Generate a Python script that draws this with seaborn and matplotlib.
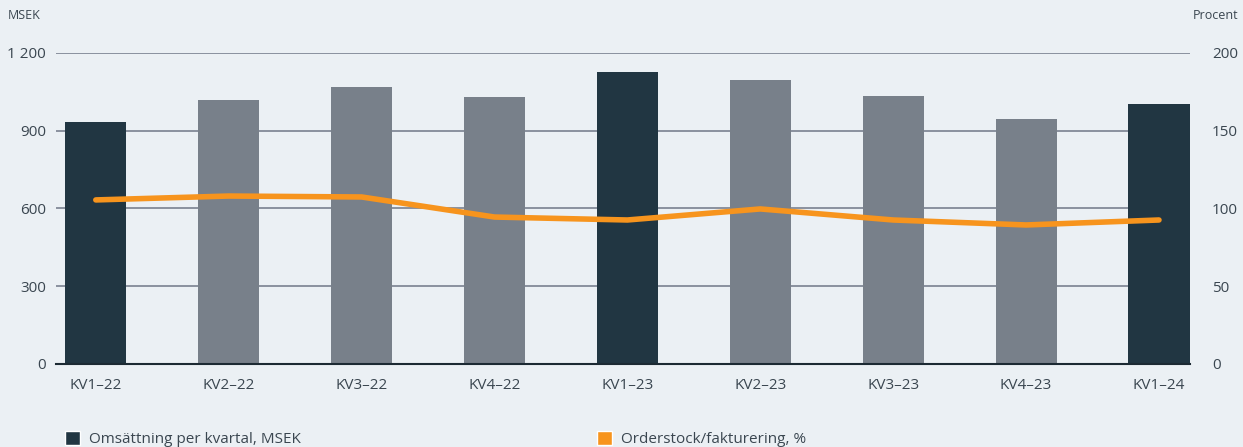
import numpy as np
import matplotlib
matplotlib.use('Agg')
import matplotlib.pyplot as plt
import seaborn as sns
from matplotlib.patches import Patch
from matplotlib.ticker import FuncFormatter

# Data
quarters = ['KV1–22', 'KV2–22', 'KV3–22', 'KV4–22', 'KV1–23', 'KV2–23', 'KV3–23', 'KV4–23', 'KV1–24']
sales_msek = [933, 1019, 1069, 1030, 1127, 1096, 1034, 945, 1003]
order_ratio = [105.5, 108, 107.4, 94.5, 92.6, 99.7, 92.6, 89.4, 92.6]
highlight = [True, False, False, False, True, False, False, False, True]

bg = '#ebf0f4'
dark = '#213642'
grey = '#78808a'
orange = '#f7941d'
text_col = '#3a4650'

sns.set_style('white')
plt.rcParams['font.family'] = ['Open Sans', 'DejaVu Sans']

fig = plt.figure(figsize=(12.43, 4.47), dpi=100, facecolor=bg)
ax = fig.add_axes([0.045, 0.1857, 0.912, 0.6958])
ax.set_facecolor(bg)

palette = {q: (dark if h else grey) for q, h in zip(quarters, highlight)}
sns.barplot(x=quarters, y=sales_msek, hue=quarters, palette=palette, legend=False,
            width=0.46, saturation=1, linewidth=0, edgecolor='none', ax=ax, zorder=2)

ax.set_ylim(0, 1200)
ax.set_yticks([0, 300, 600, 900, 1200])
ax.yaxis.set_major_formatter(FuncFormatter(lambda v, p: f'{int(v):,}'.replace(',', ' ')))
ax.set_xlim(-0.3, 8.23)
ax.grid(axis='y', color='#7a8190', linewidth=1.2, zorder=0)
ax.set_axisbelow(True)
for s in ['top', 'right', 'left']:
    ax.spines[s].set_visible(False)
ax.spines['bottom'].set_color('#1c2a33')
ax.spines['bottom'].set_linewidth(1.5)
ax.tick_params(axis='y', length=0, pad=7, labelsize=11, labelcolor=text_col)
ax.set_xticks(range(len(quarters)))
ax.set_xticklabels(quarters)
ax.tick_params(axis='x', length=0, pad=10, labelsize=11, labelcolor=text_col)
# tick marks between categories
ax.set_xticks(np.arange(0.5, len(quarters) - 1, 1), minor=True)
ax.tick_params(axis='x', which='minor', length=5, width=1.2, color='#1c2a33')
ax.set_xlabel('')
ax.set_ylabel('')

ax2 = ax.twinx()
sns.lineplot(x=np.arange(len(quarters)), y=order_ratio, color=orange, linewidth=4,
             ax=ax2, solid_capstyle='round', zorder=3)
ax2.set_ylim(0, 200)
ax2.set_yticks([0, 50, 100, 150, 200])
ax2.tick_params(axis='y', length=0, pad=16, labelsize=11, labelcolor=text_col)
for s in ['top', 'right', 'left', 'bottom']:
    ax2.spines[s].set_visible(False)
ax2.set_ylabel('')

fig.text(0.0065, 0.965, 'MSEK', fontsize=9, color=text_col, ha='left', va='center')
fig.text(0.996, 0.965, 'Procent', fontsize=9, color=text_col, ha='right', va='center')

h1 = [Patch(facecolor=dark, label='Omsättning per kvartal, MSEK')]
h2 = [Patch(facecolor=orange, label='Orderstock/fakturering, %')]
leg_kw = dict(frameon=False, fontsize=11, handlelength=1.0, handleheight=1.0,
              handletextpad=0.6, labelcolor=text_col, loc='center left',
              borderpad=0, borderaxespad=0)
fig.legend(handles=h1, bbox_to_anchor=(0.0523, 0.018), **leg_kw)
fig.legend(handles=h2, bbox_to_anchor=(0.480, 0.018), **leg_kw)

fig.savefig('out.png', dpi=100, facecolor=bg)
